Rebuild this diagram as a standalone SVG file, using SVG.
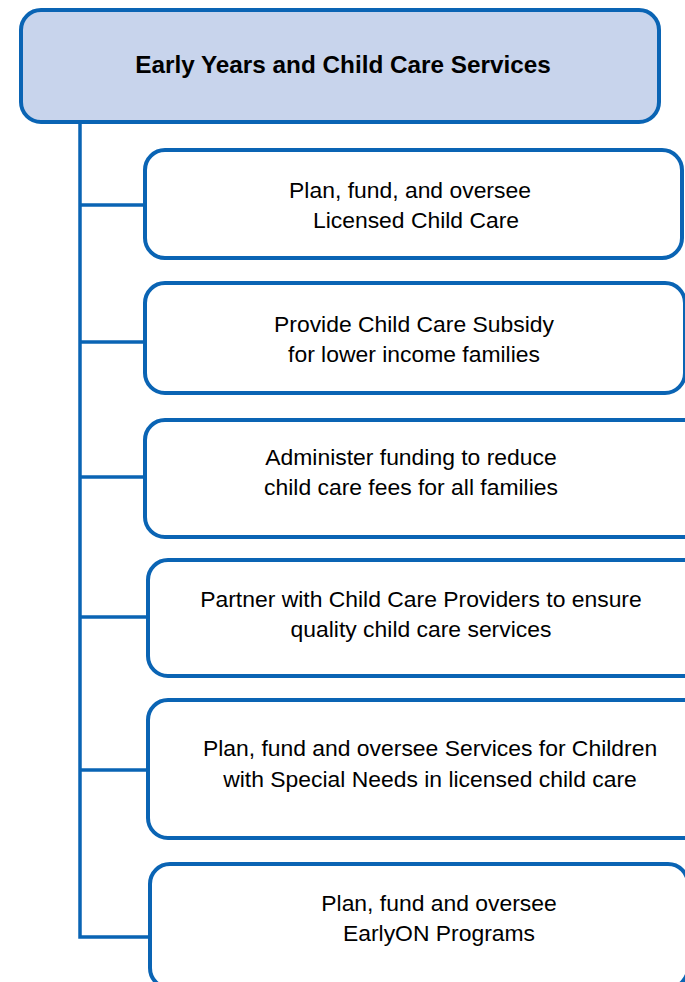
<svg xmlns="http://www.w3.org/2000/svg" width="685" height="982" viewBox="0 0 685 982">
<style>
.box{fill:#fff;stroke:#0A64B4;stroke-width:4}
.title{fill:#C8D4EC;stroke:#0A64B4;stroke-width:4}
.conn{fill:none;stroke:#0A64B4;stroke-width:3.5}
text{font-family:"Liberation Sans",Arial,sans-serif;font-size:22.9px;fill:#000;text-anchor:middle}
.t{font-weight:bold;font-size:24.3px}
</style>
<rect width="685" height="982" fill="#fff"/>
<g id="connectors">
<path class="conn" d="M80,122 V937 H150"/>
<path class="conn" d="M80,205 H145"/>
<path class="conn" d="M80,342 H145"/>
<path class="conn" d="M80,477 H145"/>
<path class="conn" d="M80,617 H148"/>
<path class="conn" d="M80,770 H148"/>
</g>
<g id="root">
<rect class="title" x="21" y="10" width="638" height="112" rx="20"/>
<text class="t" x="343" y="73">Early Years and Child Care Services</text>
</g>
<g id="n1">
<rect class="box" x="145" y="150" width="537" height="108" rx="20"/>
<text x="410" y="198">Plan, fund, and oversee</text>
<text x="416" y="228">Licensed Child Care</text>
</g>
<g id="n2">
<rect class="box" x="145" y="283" width="540" height="110" rx="20"/>
<text x="414" y="332">Provide Child Care Subsidy</text>
<text x="414" y="362">for lower income families</text>
</g>
<g id="n3">
<rect class="box" x="145" y="420" width="560" height="117" rx="20"/>
<text x="411" y="465">Administer funding to reduce</text>
<text x="411" y="495">child care fees for all families</text>
</g>
<g id="n4">
<rect class="box" x="148" y="560" width="560" height="116" rx="20"/>
<text x="421" y="607">Partner with Child Care Providers to ensure</text>
<text x="421" y="637">quality child care services</text>
</g>
<g id="n5">
<rect class="box" x="148" y="700" width="560" height="138" rx="20"/>
<text x="430" y="756">Plan, fund and oversee Services for Children</text>
<text x="430" y="787">with Special Needs in licensed child care</text>
</g>
<g id="n6">
<rect class="box" x="150" y="864" width="538" height="124" rx="20"/>
<text x="439" y="911">Plan, fund and oversee</text>
<text x="439" y="941">EarlyON Programs</text>
</g>
</svg>
